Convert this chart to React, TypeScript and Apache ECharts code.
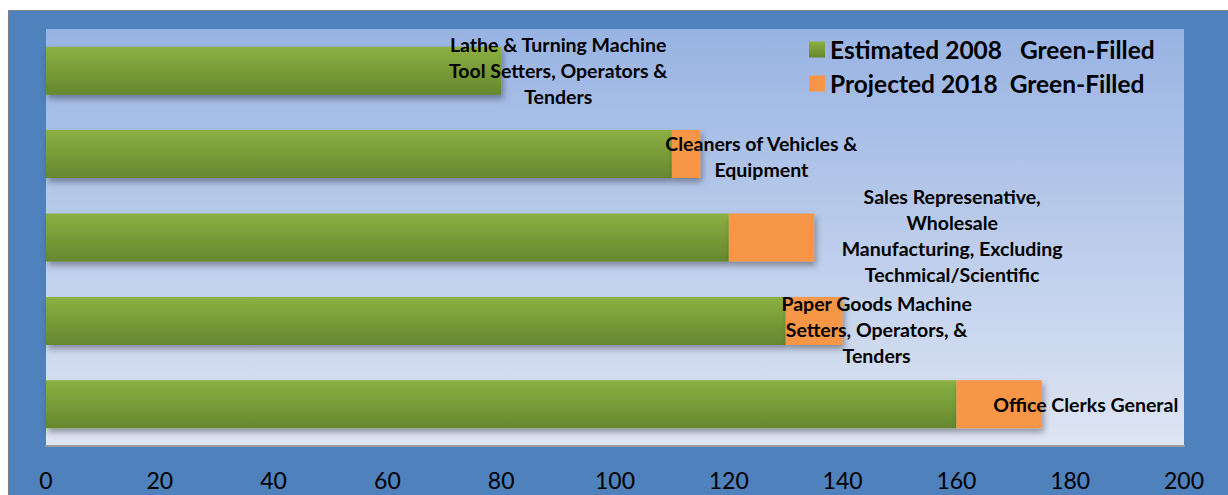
import React, { useEffect, useRef } from "react";
import * as echarts from "echarts";

const categories = [
  "Lathe & Turning Machine\nTool Setters, Operators &\nTenders",
  "Cleaners of Vehicles &\nEquipment",
  "Sales Represenative,\nWholesale\nManufacturing, Excluding\nTechmical/Scientific",
  "Paper Goods Machine\nSetters, Operators, &\nTenders",
  "Office Clerks General",
];
const estimated2008 = [80, 110, 120, 130, 160];
const projectedExtra2018 = [0, 5, 15, 10, 15];
const xTicks = [0, 20, 40, 60, 80, 100, 120, 140, 160, 180, 200];
const seriesNames = ["Estimated 2008   Green-Filled", "Projected 2018  Green-Filled"];
const labelOffsets: [number, number][] = [
  [57, 0],
  [61, 2],
  [138, -2],
  [34, 9],
  [44, 0],
];

export default function App() {
  const ref = useRef<HTMLDivElement>(null);
  useEffect(() => {
    if (!ref.current) return;
    const chart = echarts.init(ref.current, null, { renderer: "svg" });
    const green = new echarts.graphic.LinearGradient(0, 0, 0, 1, [
      { offset: 0, color: "#8BB042" },
      { offset: 1, color: "#66872E" },
    ]);
    chart.setOption({
      animation: false,
      backgroundColor: "#4F81BD",
      textStyle: { fontFamily: "Lato" },
      grid: {
        left: 37,
        right: 44,
        top: 18,
        bottom: 49,
        show: true,
        borderWidth: 0,
        backgroundColor: new echarts.graphic.LinearGradient(0, 0, 0, 1, [
          { offset: 0, color: "#98B3E3" },
          { offset: 1, color: "#DEE5F3" },
        ]),
      },
      legend: {
        orient: "vertical",
        left: 795,
        top: 21,
        itemWidth: 16,
        itemHeight: 16,
        itemGap: 9,
        icon: "rect",
        textStyle: {
          fontFamily: "Lato",
          fontWeight: "bold",
          fontSize: 24.5,
          lineHeight: 24,
          color: "#000",
        },
        data: seriesNames,
      },
      xAxis: {
        type: "value",
        min: 0,
        max: 200,
        interval: 20,
        axisLine: { show: true, lineStyle: { color: "#9C9C9C", width: 2 } },
        axisTick: { show: false },
        splitLine: { show: false },
        axisLabel: {
          margin: 22,
          fontSize: 23,
          fontFamily: "Lato",
          color: "#000",
          formatter: (v: number) => (xTicks.includes(v) ? String(v) : ""),
        },
      },
      yAxis: {
        type: "category",
        inverse: true,
        data: categories,
        axisLine: { show: false },
        axisTick: { show: false },
        axisLabel: { show: false },
      },
      series: [
        {
          name: seriesNames[0],
          type: "bar",
          stack: "total",
          barWidth: 48,
          data: estimated2008,
          itemStyle: {
            color: green,
            shadowColor: "rgba(0,0,0,0.35)",
            shadowBlur: 6,
            shadowOffsetX: 2,
            shadowOffsetY: 4,
          },
        },
        {
          name: seriesNames[1],
          type: "bar",
          stack: "total",
          barWidth: 48,
          itemStyle: {
            color: "#F79646",
            shadowColor: "rgba(0,0,0,0.35)",
            shadowBlur: 6,
            shadowOffsetX: 2,
            shadowOffsetY: 4,
          },
          data: projectedExtra2018.map((v, i) => ({
            value: v,
            label: {
              show: true,
              position: "right",
              distance: 0,
              align: "center",
              verticalAlign: "middle",
              offset: labelOffsets[i],
              formatter: categories[i],
              fontFamily: "Lato",
              fontWeight: "bold",
              fontSize: 19.5,
              lineHeight: 26,
              color: "#000",
            },
          })),
        },
      ],
    });
    return () => chart.dispose();
  }, []);
  return (
    <div
      style={{
        position: "absolute",
        left: 8,
        top: 10,
        width: 1220,
        height: 485,
        boxSizing: "border-box",
        borderLeft: "1px solid #808080",
        borderTop: "1px solid #808080",
        background: "#4F81BD",
      }}
    >
      <div ref={ref} style={{ width: 1219, height: 484 }} />
    </div>
  );
}
